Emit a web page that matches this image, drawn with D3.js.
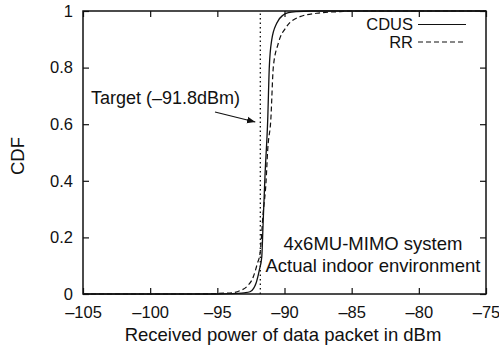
<!DOCTYPE html>
<html>
<head>
<meta charset="utf-8">
<script src="https://cdn.jsdelivr.net/npm/d3@7"></script>
<style>
  body { margin: 0; background: #fff; }
  text { font-family: "Liberation Sans", Arial, sans-serif; fill: #111; }
</style>
</head>
<body>
<script>
// CDUS (solid) curve
let cdusX = [-105, -95, -94, -93.5, -93, -92.57, -92.3, -92.12, -91.87, -91.69, -91.6, -91.45, -91.25, -91.13, -90.95, -90.58, -90.09, -89.71, -89.09, -88, -75];
let cdusY = [0, 0, 0.001, 0.002, 0.004, 0.008, 0.02, 0.038, 0.085, 0.132, 0.24, 0.42, 0.615, 0.803, 0.898, 0.957, 0.986, 0.994, 0.998, 1, 1];
// RR (dashed) curve
let rrX = [-105, -97, -95.5, -94.5, -93.81, -93.3, -92.81, -92.32, -92.02, -91.82, -91.6, -91.37, -91.25, -91.02, -90.83, -90.46, -89.84, -88.85, -87.6, -85.86, -85, -75];
let rrY = [0, 0, 0.001, 0.003, 0.005, 0.012, 0.026, 0.061, 0.108, 0.144, 0.28, 0.40, 0.51, 0.615, 0.803, 0.886, 0.945, 0.980, 0.992, 0.998, 1, 1];

let xTicks = [-105, -100, -95, -90, -85, -80, -75];
let yTicks = [0, 0.2, 0.4, 0.6, 0.8, 1];
let target = -91.8;

let width = 499, height = 349;
let margin = {left: 83, right: 13, top: 11, bottom: 55};
let w = width - margin.left - margin.right;
let h = height - margin.top - margin.bottom;

let svg = d3.select("body").append("svg").attr("width", width).attr("height", height);
let g = svg.append("g").attr("transform", "translate(" + margin.left + "," + margin.top + ")");

let x = d3.scaleLinear().domain([-105, -75]).range([0, w]);
let y = d3.scaleLinear().domain([0, 1]).range([h, 0]);

let fmtX = d => d < 0 ? "\u2013" + Math.abs(d) : d;
let fmtY = d => d;

let styleAxis = sel => {
  sel.select(".domain").remove();
  sel.selectAll(".tick line").attr("stroke", "#111").attr("stroke-width", 1.2);
  sel.selectAll("text").attr("font-size", 16.5).attr("fill", "#111").attr("font-family", "Liberation Sans, Arial, sans-serif");
};

g.append("g").attr("transform", "translate(0," + h + ")")
  .call(d3.axisBottom(x).tickValues(xTicks).tickFormat(fmtX).tickSizeInner(-6).tickSizeOuter(0).tickPadding(12))
  .call(styleAxis);
g.append("g")
  .call(d3.axisTop(x).tickValues(xTicks).tickFormat("").tickSizeInner(-6).tickSizeOuter(0))
  .call(styleAxis);
g.append("g")
  .call(d3.axisLeft(y).tickValues(yTicks).tickFormat(fmtY).tickSizeInner(-6).tickSizeOuter(0).tickPadding(10))
  .call(styleAxis);
g.append("g").attr("transform", "translate(" + w + ",0)")
  .call(d3.axisRight(y).tickValues(yTicks).tickFormat("").tickSizeInner(-6).tickSizeOuter(0))
  .call(styleAxis);

// target line
g.append("line")
  .attr("x1", x(target)).attr("x2", x(target))
  .attr("y1", y(0)).attr("y2", y(1))
  .attr("stroke", "#111").attr("stroke-width", 1.3).attr("stroke-dasharray", "1.5,3");

let line = d3.line().x(d => x(d[0])).y(d => y(d[1])).curve(d3.curveMonotoneX);

g.append("path").datum(d3.zip(rrX, rrY))
  .attr("d", line).attr("fill", "none").attr("stroke", "#111")
  .attr("stroke-width", 1.2).attr("stroke-dasharray", "5,3");
g.append("path").datum(d3.zip(cdusX, cdusY))
  .attr("d", line).attr("fill", "none").attr("stroke", "#111")
  .attr("stroke-width", 1.3);

// frame
g.append("rect").attr("width", w).attr("height", h)
  .attr("fill", "none").attr("stroke", "#111").attr("stroke-width", 1.5);

// legend
let legend = [["CDUS", null], ["RR", "5,3"]];
legend.forEach((d, i) => {
  let ly = 13.5 + i * 17.5;
  g.append("text").attr("x", 330).attr("y", ly).attr("dy", "0.35em")
    .attr("text-anchor", "end").attr("font-size", 16.5).text(d[0]);
  g.append("line").attr("x1", 335).attr("x2", 383).attr("y1", ly).attr("y2", ly)
    .attr("stroke", "#111").attr("stroke-width", 1.2)
    .attr("stroke-dasharray", d[1]);
});

// annotation
g.append("text").attr("x", 8).attr("y", 93).attr("font-size", 18).text("Target (\u201391.8dBm)");
svg.append("defs").append("marker").attr("id", "arr")
  .attr("viewBox", "0 0 10 10").attr("refX", 10).attr("refY", 5)
  .attr("markerWidth", 7).attr("markerHeight", 7).attr("orient", "auto")
  .append("path").attr("d", "M0,1L10,5L0,9z").attr("fill", "#111");
g.append("line").attr("x1", 132).attr("y1", 101).attr("x2", x(target) - 5).attr("y2", 111)
  .attr("stroke", "#111").attr("stroke-width", 1.2).attr("marker-end", "url(#arr)");

g.append("text").attr("x", 290).attr("y", 239).attr("text-anchor", "middle").attr("font-size", 18.5).text("4x6MU-MIMO system");
g.append("text").attr("x", 290).attr("y", 261).attr("text-anchor", "middle").attr("font-size", 18.5).text("Actual indoor environment");

// axis titles
svg.append("text").attr("x", 283).attr("y", 341)
  .attr("text-anchor", "middle").attr("font-size", 18.5).text("Received power of data packet in dBm");
svg.append("text").attr("transform", "translate(23.5,156) rotate(-90)")
  .attr("text-anchor", "middle").attr("font-size", 18.5).text("CDF");
</script>
</body>
</html>
